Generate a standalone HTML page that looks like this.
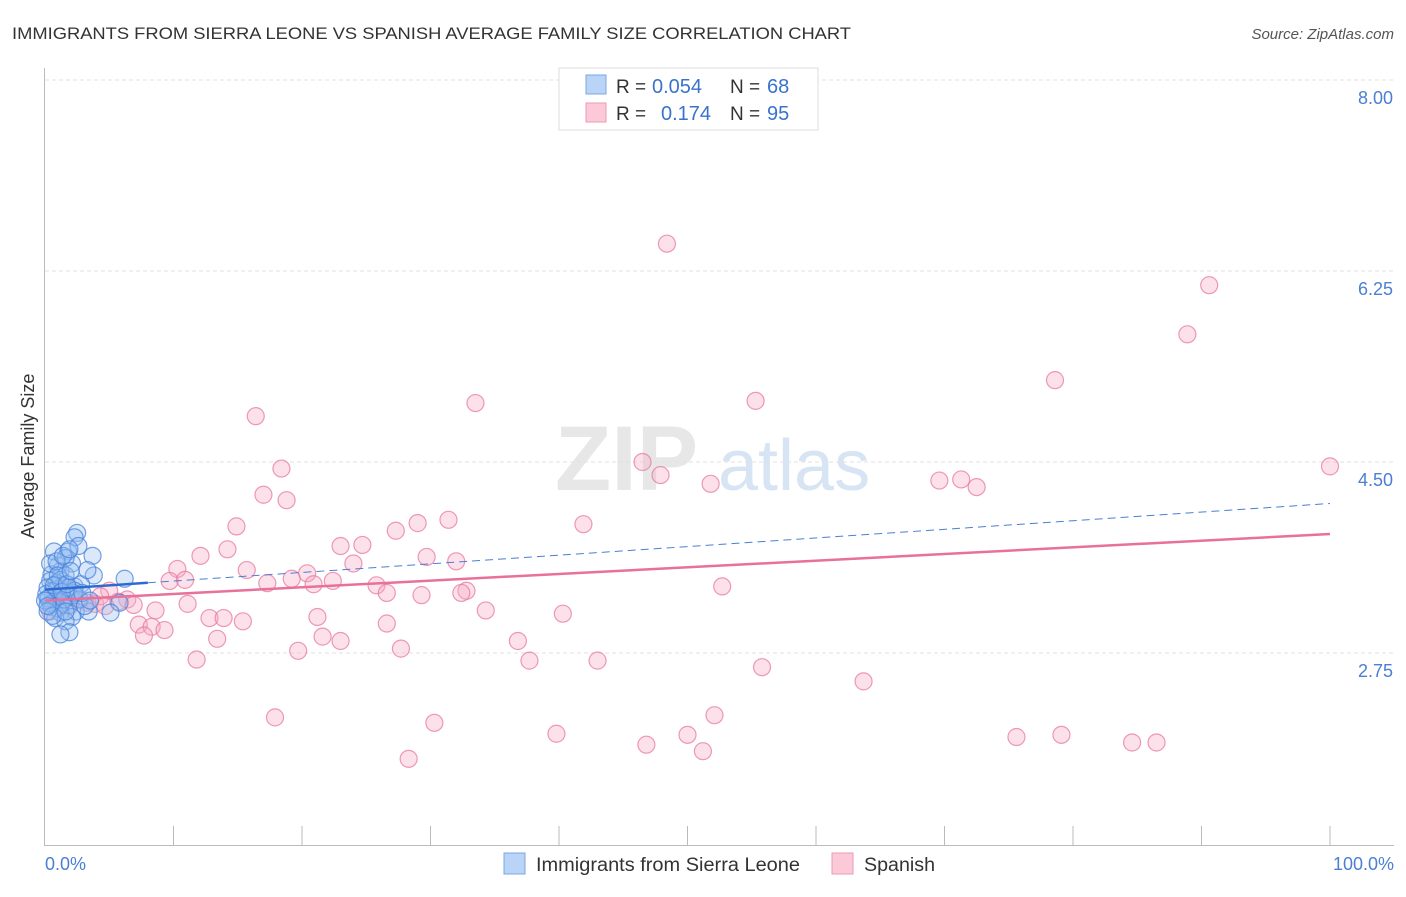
<!DOCTYPE html>
<html><head><meta charset="utf-8">
<style>
body{margin:0;background:#fff;font-family:"Liberation Sans",sans-serif;}
svg text{font-family:"Liberation Sans",sans-serif;}
</style></head>
<body>
<svg id="chart" width="1406" height="892" viewBox="0 0 1406 892" xmlns="http://www.w3.org/2000/svg">
<text x="12" y="39" font-size="17" fill="#333" textLength="839" lengthAdjust="spacingAndGlyphs">IMMIGRANTS FROM SIERRA LEONE VS SPANISH AVERAGE FAMILY SIZE CORRELATION CHART</text>
<text x="1394" y="39" font-size="15" fill="#555" font-style="italic" text-anchor="end">Source: ZipAtlas.com</text>
<g>
<text x="555" y="490" font-size="92" fill="#ddd" font-family="Liberation Serif" font-weight="bold" opacity="0.7">ZIP</text>
<text x="718" y="490" font-size="72" fill="#c7d9ef" opacity="0.7">atlas</text>
</g>
<g id="grid"></g>
<g id="axes"></g>
<g id="pts"></g>
<g id="lines"></g>
<text x="34" y="456" font-size="18" fill="#333" text-anchor="middle" transform="rotate(-90 34 456)">Average Family Size</text>
<text x="45" y="870" font-size="18" fill="#4a7fd4">0.0%</text>
<text x="1394" y="870" font-size="18" fill="#4a7fd4" text-anchor="end">100.0%</text>
<g>
<rect x="559" y="68" width="259" height="62" fill="#fff" stroke="#ddd"/>
<rect x="586" y="75" width="20" height="19" fill="#b9d4f6" stroke="#7aa7e3"/>
<rect x="586" y="103" width="20" height="19" fill="#fbc9d8" stroke="#ec9ab3"/>
<text x="616" y="93" font-size="19" fill="#333">R =</text>
<text x="652" y="93" font-size="20" fill="#3a73cc">0.054</text>
<text x="730" y="93" font-size="19" fill="#333">N =</text>
<text x="767" y="93" font-size="20" fill="#3a73cc">68</text>
<text x="616" y="120" font-size="19" fill="#333">R =</text>
<text x="661" y="120" font-size="20" fill="#3a73cc">0.174</text>
<text x="730" y="120" font-size="19" fill="#333">N =</text>
<text x="767" y="120" font-size="20" fill="#3a73cc">95</text>
</g>
<g>
<rect x="504" y="853" width="21" height="21" fill="#b9d4f6" stroke="#7aa7e3"/>
<text x="536" y="871" font-size="19" fill="#333" textLength="264" lengthAdjust="spacingAndGlyphs">Immigrants from Sierra Leone</text>
<rect x="832" y="853" width="21" height="21" fill="#fbc9d8" stroke="#ec9ab3"/>
<text x="864" y="871" font-size="19" fill="#333" textLength="71" lengthAdjust="spacingAndGlyphs">Spanish</text>
</g>
</svg>
<script>
const yTicks=[8.00,6.25,4.50,2.75];
const yTickLabels=["8.00","6.25","4.50","2.75"];
const blueX=[2.5,2.3,0.7,1.8,3.7,2.1,1.0,1.2,1.6,0.5,6.2,3.8,0.4,0.9,1.4,2.3,2.8,0.2,0.6,1.1,1.7,2.0,0.2,0.8,1.3,1.9,0.5,1.0,2.4,3.4,5.8,5.1,1.2,0.8,2.1,1.6,1.9,1.2,0.3,0.5,0.9,1.5,2.2,2.7,3.1,0.1,1.2,1.8,0.4,3.3,1.6,2.6,0.9,1.4,1.9,0.0,0.2,0.6,2.3,2.9,3.5,1.6,1.0,0.7,0.2,1.3,1.7,2.0];
const blueY=[3.85,3.81,3.68,3.68,3.64,3.57,3.55,3.50,3.46,3.47,3.43,3.46,3.41,3.39,3.37,3.36,3.38,3.35,3.32,3.29,3.28,3.26,3.25,3.23,3.21,3.19,3.17,3.16,3.13,3.13,3.21,3.12,3.12,3.07,3.08,3.04,2.94,2.92,3.25,3.20,3.33,3.24,3.30,3.24,3.18,3.29,3.42,3.35,3.57,3.51,3.62,3.73,3.59,3.64,3.70,3.23,3.13,3.09,3.32,3.30,3.23,3.13,3.46,3.37,3.18,3.31,3.38,3.50];
const pinkX=[48.4,90.6,88.9,78.6,55.3,33.5,16.4,46.5,100,18.4,47.9,71.3,69.6,72.5,51.8,17.0,18.8,14.9,29.0,31.4,41.9,27.3,23.0,24.7,24.0,14.2,12.1,29.7,32.0,10.3,15.7,20.4,9.7,10.9,19.2,22.4,17.3,20.9,25.8,26.6,32.8,32.4,29.3,52.7,5.0,6.4,3.3,5.7,6.9,11.1,8.6,34.3,40.3,21.2,12.8,13.9,15.4,26.6,7.3,8.3,9.3,7.7,21.6,23.0,13.4,36.8,19.7,27.7,11.8,37.7,43.0,55.8,63.7,17.9,30.3,52.1,39.8,50.0,46.8,51.2,75.6,79.1,84.6,86.5,28.3,1.2,1.9,3.9,4.3,2.6,0.8,0.4,1.6,4.7];
const pinkY=[6.50,6.12,5.67,5.25,5.06,5.04,4.92,4.50,4.46,4.44,4.38,4.34,4.33,4.27,4.30,4.20,4.15,3.91,3.94,3.97,3.93,3.87,3.73,3.74,3.57,3.70,3.64,3.63,3.59,3.52,3.51,3.48,3.41,3.42,3.43,3.41,3.39,3.38,3.37,3.30,3.32,3.30,3.28,3.36,3.32,3.24,3.21,3.22,3.19,3.20,3.14,3.14,3.11,3.08,3.07,3.07,3.04,3.02,3.01,2.99,2.96,2.91,2.90,2.86,2.88,2.86,2.77,2.79,2.69,2.68,2.68,2.62,2.49,2.16,2.11,2.18,2.01,2.00,1.91,1.85,1.98,2.00,1.93,1.93,1.78,3.23,3.18,3.20,3.27,3.24,3.27,3.13,3.32,3.18];
const blueTrend=[3.33,4.12];
const pinkTrend=[3.23,3.84];
const NS="http://www.w3.org/2000/svg";
const X=v=>45+v*12.85;
const Y=v=>80+(8-v)*109.14;
function mk(tag,attrs,parent){const e=document.createElementNS(NS,tag);for(const k in attrs)e.setAttribute(k,attrs[k]);parent.appendChild(e);return e;}
const grid=document.getElementById('grid'),axes=document.getElementById('axes'),pts=document.getElementById('pts'),lines=document.getElementById('lines');
yTicks.forEach((t,i)=>{
  const l=mk('line',{x1:45,x2:1394,y1:Y(t),y2:Y(t),stroke:'#e2e2e2','stroke-dasharray':'4 3'},grid);
  
  
  const tx=mk('text',{x:1393,y:Y(t)+24,'font-size':18,fill:'#4a7fd4','text-anchor':'end'},axes);
  tx.textContent=yTickLabels[i];
  
  
});
mk('line',{x1:44.5,x2:44.5,y1:68,y2:845,stroke:'#bbb'},axes);
mk('line',{x1:44,x2:1394,y1:845.5,y2:845.5,stroke:'#bbb'},axes);
for(let i=1;i<=10;i++){mk('line',{x1:X(i*10),x2:X(i*10),y1:826,y2:845,stroke:'#bbb'},axes);}
pinkX.forEach((x,i)=>{
  const c=mk('circle',{cx:X(x),cy:Y(pinkY[i]),r:8.5,fill:'rgba(246,170,196,0.35)',stroke:'rgba(232,120,158,0.75)','stroke-width':1.2},pts);
  
  
});
blueX.forEach((x,i)=>{
  const c=mk('circle',{cx:X(x),cy:Y(blueY[i]),r:8.5,fill:'rgba(150,190,240,0.35)',stroke:'rgba(70,130,220,0.75)','stroke-width':1.2},pts);
  
  
});
const bAt=x=>blueTrend[0]+(blueTrend[1]-blueTrend[0])*x/100;
const pAt=x=>pinkTrend[0]+(pinkTrend[1]-pinkTrend[0])*x/100;
let e=mk('line',{x1:X(8),y1:Y(bAt(8)),x2:X(100),y2:Y(bAt(100)),stroke:'#4a7fd4','stroke-width':1,'stroke-dasharray':'8 5'},lines);


e=mk('line',{x1:X(0),y1:Y(bAt(0)),x2:X(8),y2:Y(bAt(8)),stroke:'#2f6ad0','stroke-width':2.5},lines);


e=mk('line',{x1:X(0),y1:Y(pAt(0)),x2:X(100),y2:Y(pAt(100)),stroke:'#e8709a','stroke-width':2.5},lines);


</script>
</body></html>
